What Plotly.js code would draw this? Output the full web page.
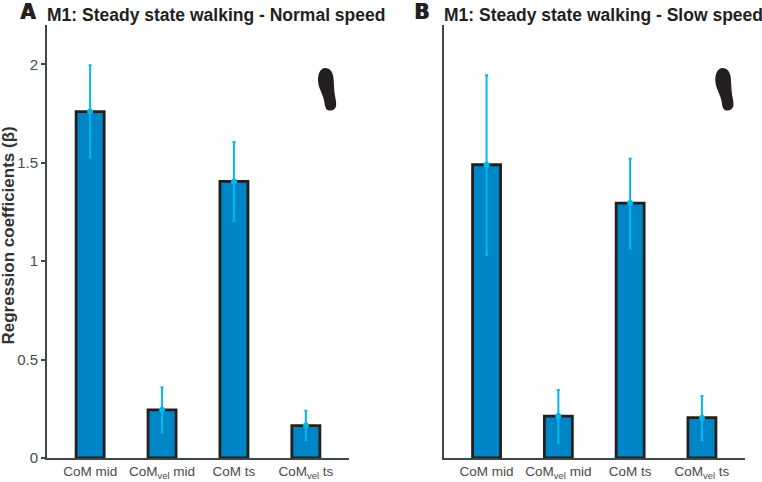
<!DOCTYPE html>
<html><head><meta charset="utf-8">
<script src="https://cdn.plot.ly/plotly-3.0.1.min.js"></script>
<style>html,body{margin:0;padding:0;background:#fff}#c{width:762px;height:482px}</style>
</head><body><div id="c"></div>
<script>
const W = 762, H = 482;
const categories = ["CoM mid", "CoM<sub>vel</sub> mid", "CoM ts", "CoM<sub>vel</sub> ts"];
const positions = [1, 2, 3, 4];
const normalValues = [1.76, 0.245, 1.405, 0.165];
const normalUpper = [1.995, 0.36, 1.605, 0.24];
const normalLower = [1.528, 0.13, 1.205, 0.09];
const slowValues = [1.49, 0.213, 1.295, 0.205];
const slowUpper = [1.945, 0.345, 1.52, 0.315];
const slowLower = [1.03, 0.078, 1.065, 0.09];
const yTicks = [0, 0.5, 1, 1.5, 2];
const yTickText = ["0", "0.5", "1", "1.5", "2"];
const titleA = "M1: Steady state walking - Normal speed";
const titleB = "M1: Steady state walking - Slow speed";
const yLabel = "Regression coefficients (β)";

const BAR = "#0085C7", EDGE = "#231F20", ERR = "#00B9F2", AXIS = "#3F4848", TXT = "#4A4A4A", FONT = "Liberation Sans, Arial, sans-serif";
const px = x => x / W, py = y => 1 - y / H;

function traces(vals, up, lo, xa, ya) {
  return [{
    type: "bar", x: positions, y: vals, xaxis: xa, yaxis: ya, width: 0.39,
    marker: {color: BAR, line: {color: EDGE, width: 2.8}},
    error_y: {type: "data", symmetric: false,
      array: up.map((u, i) => u - vals[i]), arrayminus: vals.map((v, i) => v - lo[i]),
      color: ERR, thickness: 2, width: 1.5},
    showlegend: false, hoverinfo: "y"
  }, {
    type: "scatter", mode: "markers", x: positions, y: vals, xaxis: xa, yaxis: ya,
    marker: {color: ERR, size: 6}, showlegend: false, hoverinfo: "skip", cliponaxis: false
  }];
}
function xAxis(d, anchor) {
  return {domain: d, anchor, range: [0.4, 4.6], tickmode: "array", tickvals: positions, ticktext: categories,
    ticks: "", showline: true, linecolor: AXIS, linewidth: 2, showgrid: false, zeroline: false,
    tickfont: {family: FONT, size: 13.5, color: TXT}, automargin: false, fixedrange: true, tickangle: 0};
}
function yAxis(d, anchor, labels) {
  return {domain: d, anchor, range: [0, 2.2], tickmode: "array", tickvals: yTicks, ticktext: yTickText,
    showticklabels: labels, ticks: labels ? "outside" : "", ticklen: 4, tickwidth: 2, tickcolor: AXIS,
    showline: true, linecolor: AXIS, linewidth: 2, showgrid: false, zeroline: false,
    tickfont: {family: FONT, size: 15, color: TXT}, automargin: false, fixedrange: true};
}
function foot(dx) {
  const pts = [[325,68],[330,68],[333,72],[333.5,78],[334,84],[334,90],[335,96],[336,100],[336.5,104],[336,106],
    [335.5,109.5],[332,111],[329,110.5],[326,110],[325,107],[324.5,103],[324,98],[321,92],[319.5,88],[318,84],[317.5,79],[318.5,75],[319.5,71],[322,68],[325,68]];
  const p = pts.map(q => px(q[0] + dx).toFixed(5) + "," + py(q[1]).toFixed(5));
  let s = "M" + p[0];
  for (let i = 1; i + 2 < p.length; i += 3) s += " C" + p[i] + " " + p[i+1] + " " + p[i+2];
  return {type: "path", xref: "paper", yref: "paper", path: s + " Z", fillcolor: EDGE, line: {width: 0}};
}
function note(text, x, y, size, extra) {
  return Object.assign({text, xref: "paper", yref: "paper", x: px(x), y: py(y), xanchor: "left", yanchor: "middle",
    showarrow: false, font: {family: FONT, size, color: EDGE}}, extra || {});
}
const letterFont = {family: "Liberation Sans Narrow, DejaVu Sans Condensed", size: 22, color: EDGE, shadow: "1px 0 0 #231F20"};
const yDom = [py(458), py(25)];
const layout = {
  width: W, height: H, margin: {l: 0, r: 0, t: 0, b: 0}, paper_bgcolor: "#fff", plot_bgcolor: "#fff",
  bargap: 0, showlegend: false,
  xaxis: xAxis([px(47), px(349)], "y"), yaxis: yAxis(yDom, "x", true),
  xaxis2: xAxis([px(443.5), px(745)], "y2"), yaxis2: yAxis(yDom, "x2", false),
  shapes: [foot(0), foot(397.3)],
  annotations: [
    note("<b>" + titleA + "</b>", 45, 15.5, 17.5),
    note("<b>" + titleB + "</b>", 442, 15.5, 17.5),
    note("<b>A</b>", 18, 11.5, 22, {font: letterFont}),
    note("<b>B</b>", 412, 11.5, 22, {font: letterFont}),
    {text: "<b>" + yLabel + "</b>", xref: "paper", yref: "paper", x: px(8), y: py(235.5), xanchor: "center", yanchor: "middle",
      textangle: -90, showarrow: false, font: {family: FONT, size: 17, color: "#333333"}}
  ]
};
const data = traces(normalValues, normalUpper, normalLower, "x", "y")
  .concat(traces(slowValues, slowUpper, slowLower, "x2", "y2"));
Plotly.newPlot("c", data, layout, {displayModeBar: false, staticPlot: true});
</script></body></html>
